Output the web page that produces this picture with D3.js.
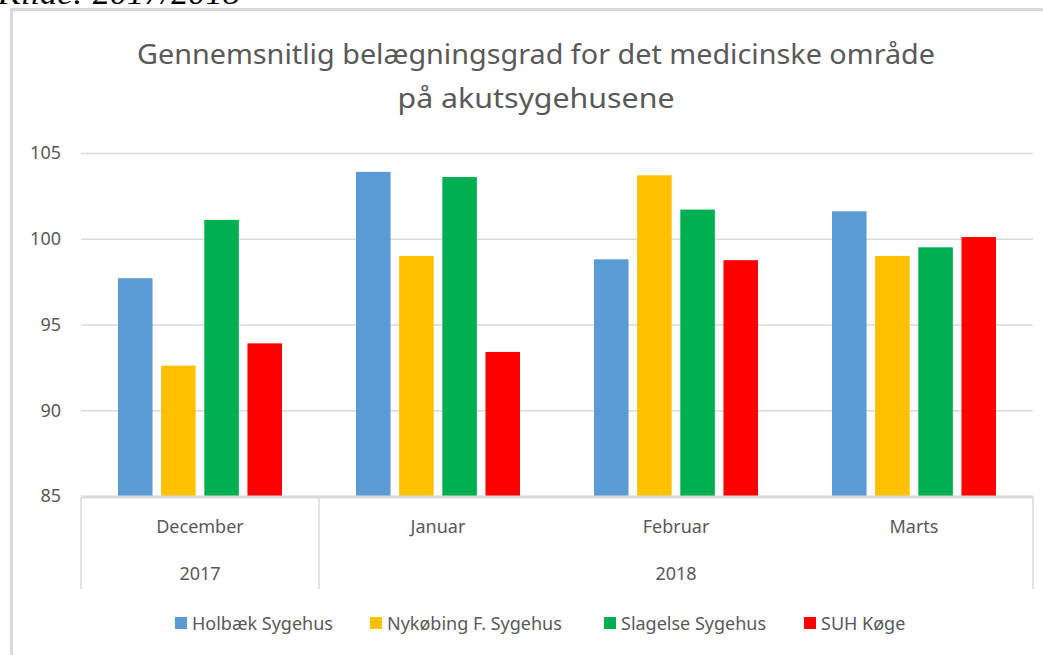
<!DOCTYPE html>
<html>
<head>
<meta charset="utf-8">
<script src="https://cdn.jsdelivr.net/npm/d3@7"></script>
<style>
  body { margin: 0; background: #fff; }
  svg { display: block; }
</style>
</head>
<body>
<svg id="chart" width="1043" height="655"></svg>
<script>
// data
var months = ["December", "Januar", "Februar", "Marts"];
var years = [
  { label: "2017", from: 0, to: 0 },
  { label: "2018", from: 1, to: 3 }
];
var series = ["Holbæk Sygehus", "Nykøbing F. Sygehus", "Slagelse Sygehus", "SUH Køge"];
var colors = ["#5B9BD5", "#FFC000", "#00B050", "#FF0000"];
var holbaek = [97.7, 103.9, 98.8, 101.6];
var nykobing = [92.6, 99.0, 103.7, 99.0];
var slagelse = [101.1, 103.6, 101.7, 99.5];
var koge = [93.9, 93.4, 98.75, 100.1];
var yTicks = [85, 90, 95, 100, 105];

var values = [holbaek, nykobing, slagelse, koge];
var rows = months.map((m, i) => ({ month: m, vals: values.map(v => v[i]) }));

var svg = d3.select("#chart");
var font = "'Noto Sans', 'Open Sans', sans-serif";
var textColor = "#595959";
var gridColor = "#d9d9d9";

// caption above the chart frame, cut off by the window edge as in the source
svg.append("text")
  .attr("x", -2).attr("y", 4)
  .style("font", "italic 32px 'Liberation Serif', serif")
  .attr("fill", "#000")
  .attr("textLength", 242).attr("lengthAdjust", "spacingAndGlyphs")
  .text("Kilde: 2017/2018");

// chart frame (only left and top edges fall inside the window)
svg.append("rect")
  .attr("x", 11.5).attr("y", 9.5)
  .attr("width", 1100).attr("height", 700)
  .attr("fill", "none")
  .attr("stroke", gridColor)
  .attr("stroke-width", 3);

var plot = { left: 81, right: 1033, top: 153, bottom: 496 };

var x0 = d3.scaleBand().domain(months).range([plot.left, plot.right]).paddingInner(0).paddingOuter(0);
var x1 = d3.scaleBand().domain(series).range([-82, 82]).paddingInner(0.2);
var y = d3.scaleLinear().domain([85, 105]).range([plot.bottom, plot.top]);

// title
var title = svg.append("g")
  .attr("fill", textColor)
  .style("font", "28px " + font)
  .attr("text-anchor", "middle");
title.append("text").attr("x", 536).attr("y", 64)
  .attr("textLength", 798).attr("lengthAdjust", "spacingAndGlyphs")
  .text("Gennemsnitlig belægningsgrad for det medicinske område");
title.append("text").attr("x", 536).attr("y", 108)
  .attr("textLength", 277).attr("lengthAdjust", "spacingAndGlyphs")
  .text("på akutsygehusene");

// gridlines + y labels
var yAxis = svg.append("g")
  .attr("transform", `translate(${plot.left},0)`)
  .call(d3.axisLeft(y).tickValues(yTicks).tickSize(-(plot.right - plot.left)).tickPadding(20));
yAxis.select(".domain").remove();
yAxis.selectAll(".tick line").attr("stroke", gridColor).attr("stroke-width", 1.5);
yAxis.selectAll(".tick text")
  .attr("fill", textColor)
  .style("font", "18px " + font);

// bars
var groups = svg.append("g").selectAll("g")
  .data(rows)
  .join("g")
  .attr("transform", d => `translate(${x0(d.month) + x0.bandwidth() / 2},0)`);

groups.selectAll("rect")
  .data(d => d.vals.map((v, i) => ({ key: series[i], value: v, color: colors[i] })))
  .join("rect")
  .attr("x", d => x1(d.key))
  .attr("width", x1.bandwidth())
  .attr("y", d => y(d.value))
  .attr("height", d => y(85) - y(d.value))
  .attr("fill", d => d.color);

// category axis with two levels
var catAxis = svg.append("g").attr("stroke", gridColor);
catAxis.append("line")
  .attr("x1", plot.left).attr("x2", plot.right)
  .attr("y1", plot.bottom + 1).attr("y2", plot.bottom + 1)
  .attr("stroke-width", 3);
var sepX = [x0(months[0]), x0(months[1]), x0(months[3]) + x0.bandwidth()];
catAxis.selectAll("line.sep")
  .data(sepX)
  .join("line")
  .attr("class", "sep")
  .attr("x1", d => d).attr("x2", d => d)
  .attr("y1", plot.bottom + 1).attr("y2", 589)
  .attr("stroke-width", 1.5);

svg.append("g").selectAll("text")
  .data(months)
  .join("text")
  .attr("x", d => x0(d) + x0.bandwidth() / 2)
  .attr("y", 533)
  .attr("text-anchor", "middle")
  .attr("fill", textColor)
  .style("font", "18px " + font)
  .text(d => d);

svg.append("g").selectAll("text")
  .data(years)
  .join("text")
  .attr("x", d => (x0(months[d.from]) + x0(months[d.to]) + x0.bandwidth()) / 2)
  .attr("y", 580)
  .attr("text-anchor", "middle")
  .attr("fill", textColor)
  .style("font", "18px " + font)
  .text(d => d.label);

// legend
var legendX = [175, 370, 604, 804];
var legend = svg.append("g").selectAll("g")
  .data(series)
  .join("g")
  .attr("transform", (d, i) => `translate(${legendX[i]},624)`);
legend.append("rect")
  .attr("x", 0).attr("y", -7)
  .attr("width", 12).attr("height", 12)
  .attr("fill", (d, i) => colors[i]);
legend.append("text")
  .attr("x", 17).attr("y", 6)
  .attr("fill", textColor)
  .style("font", "18px " + font)
  .text(d => d);
</script>
</body>
</html>
